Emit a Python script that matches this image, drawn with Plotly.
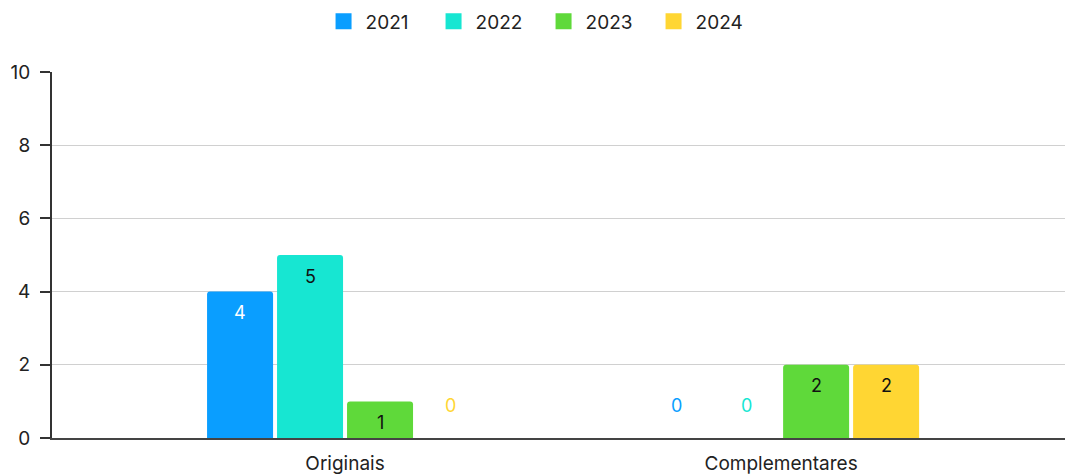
import plotly.graph_objects as go

categories = ["Originais", "Complementares"]
years = ["2021", "2022", "2023", "2024"]
values_2021 = [4, 0]
values_2022 = [5, 0]
values_2023 = [1, 2]
values_2024 = [0, 2]
series = [values_2021, values_2022, values_2023, values_2024]
colors = ["#0a9eff", "#17e6d2", "#5fd93a", "#ffd633"]
text_colors = ["#ffffff", "#111111", "#111111", "#111111"]
y_ticks = [0, 2, 4, 6, 8, 10]

FONT = "Inter, Liberation Sans, Arial, sans-serif"

fig = go.Figure()
for name, vals, col in zip(years, series, colors):
    fig.add_trace(go.Bar(
        x=categories, y=vals, name=name, showlegend=False,
        marker=dict(color=col, line=dict(width=0)),
        hoverinfo="skip",
    ))

# legend entries with square swatches
for name, col in zip(years, colors):
    fig.add_trace(go.Scatter(
        x=[None], y=[None], name=name, mode="markers",
        marker=dict(symbol="square", size=21, color=col),
    ))

# value labels: inside the top of each bar, or just above the baseline for zeros
slot_px = 70
for i, (vals, col, tcol) in enumerate(zip(series, colors, text_colors)):
    for cat, v in zip(categories, vals):
        if v == 0:
            fig.add_annotation(
                x=cat, y=v, text=str(v), showarrow=False,
                xshift=(i - 1.5) * slot_px, yshift=33, yanchor="middle",
                font=dict(color=col, size=18, family=FONT),
            )
        else:
            fig.add_annotation(
                x=cat, y=v, text=str(v), showarrow=False,
                xshift=(i - 1.5) * slot_px, yshift=-21, yanchor="middle",
                font=dict(color=tcol, size=18, family=FONT),
            )

fig.update_layout(
    width=1065, height=474,
    margin=dict(l=52, r=0, t=72, b=36, autoexpand=False),
    paper_bgcolor="white", plot_bgcolor="white",
    barmode="group", bargap=0.358, bargroupgap=0.057,
    barcornerradius=3,
    font=dict(family=FONT, size=19, color="#222222"),
    showlegend=True,
    legend=dict(orientation="h", xref="container", x=0.5085, xanchor="center",
                yref="container", y=0.995, yanchor="top",
                font=dict(size=19, color="#222222"),
                itemwidth=34, itemsizing="trace", traceorder="normal",
                entrywidth=61, entrywidthmode="pixels"),
    xaxis=dict(range=[-0.672, 1.651], showgrid=False, showline=True,
               linecolor="#444444", linewidth=2, ticks="",
               automargin=False, ticklabelstandoff=7,
               tickfont=dict(size=19, color="#222222")),
    yaxis=dict(range=[0, 10], tickvals=y_ticks, showgrid=True,
               gridcolor="#d0d0d0", gridwidth=1, showline=True,
               linecolor="#333333", linewidth=2, ticks="outside",
               ticklen=10, tickwidth=2, tickcolor="#333333",
               automargin=False, ticklabelstandoff=6,
               zeroline=False, tickfont=dict(size=19, color="#222222")),
)

fig.write_html("out.html", config={"displayModeBar": False},
               post_script="document.body.style.margin='0';")
